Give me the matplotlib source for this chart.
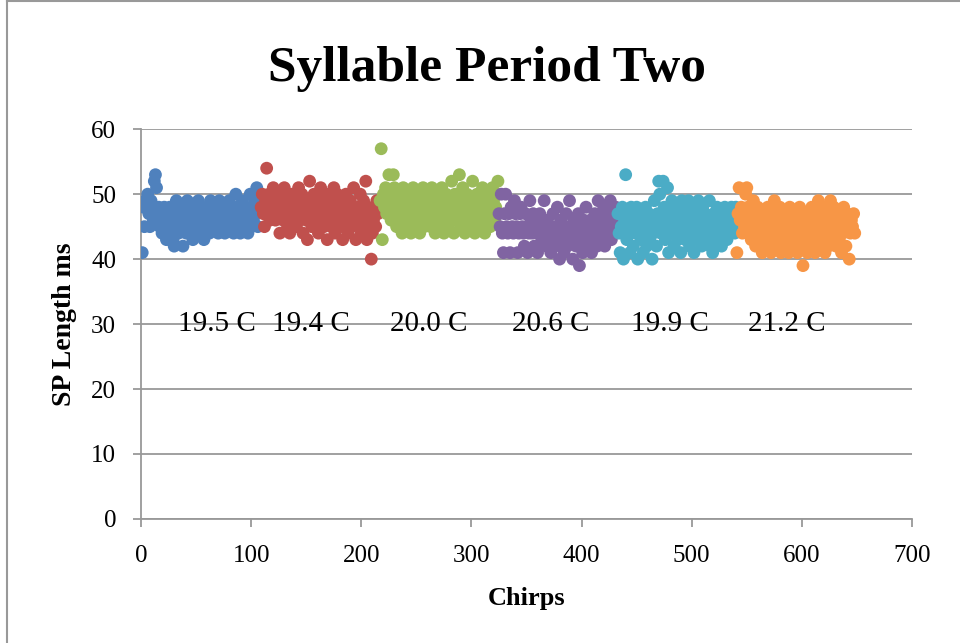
import matplotlib
matplotlib.use("Agg")
import matplotlib.pyplot as plt
import numpy as np
from matplotlib.lines import Line2D

plt.rcParams["font.family"] = ["Liberation Serif", "DejaVu Serif"]

# SP length (ms) per chirp, one list per recording temperature
blue = [41, 48, 45, 49, 48, 50, 47, 45, 49, 48, 46, 52, 53, 51, 47, 48, 45, 46, 44, 47, 48, 45, 43, 46, 44, 48, 47, 45, 43, 42,
        46, 49, 47, 44, 45, 48, 46, 42, 47, 45, 44, 49, 48, 46, 47, 45, 43, 48, 46, 47, 44, 49, 45, 46, 48, 47, 43, 45, 46, 48,
        47, 44, 49, 46, 45, 47, 48, 45, 46, 44, 49, 47, 45, 46, 48, 44, 47, 45, 46, 49, 48, 45, 47, 44, 46, 50, 48, 45, 47, 44,
        46, 49, 47, 45, 48, 46, 44, 47, 50, 45, 48, 46, 49, 47, 51, 45, 48, 50]
red = [48, 50, 47, 45, 49, 54, 48, 50, 46, 47, 49, 51, 48, 46, 50, 47, 49, 44, 48, 50, 46, 51, 47, 49, 45, 48, 44, 47, 50, 46,
       48, 49, 45, 47, 51, 46, 48, 50, 44, 47, 49, 46, 43, 48, 52, 47, 45, 49, 50, 46, 48, 47, 44, 49, 51, 46, 48, 45, 47, 50,
       43, 46, 48, 49, 45, 47, 51, 44, 46, 50, 48, 47, 45, 49, 43, 46, 48, 50, 47, 44, 46, 49, 45, 48, 51, 47, 43, 46, 48, 45,
       50, 44, 47, 49, 46, 52, 43, 48, 45, 47, 40, 44, 46, 48, 45, 49, 47, 48]
green = [49, 57, 43, 50, 48, 51, 47, 49, 53, 50, 46, 48, 53, 51, 47, 45, 49, 50, 48, 46, 44, 51, 49, 47, 45, 50, 48, 46, 44, 49,
         51, 47, 45, 48, 50, 46, 44, 49, 47, 51, 45, 48, 50, 46, 47, 49, 45, 51, 48, 46, 44, 50, 47, 49, 45, 48, 51, 46, 44, 47,
         50, 48, 45, 49, 46, 52, 47, 44, 50, 48, 46, 49, 53, 45, 47, 51, 48, 44, 46, 50, 47, 49, 45, 48, 52, 46, 44, 47, 50, 49,
         45, 48, 46, 51, 47, 44, 49, 50, 46, 48, 45, 47, 51, 49, 46, 48, 50, 52]
purple = [47, 45, 50, 44, 41, 47, 50, 45, 44, 47, 41, 48, 45, 44, 49, 47, 45, 41, 44, 47, 48, 45, 44, 42, 47, 45, 41, 44, 49, 46,
          44, 47, 42, 45, 44, 41, 46, 47, 44, 43, 45, 49, 44, 42, 46, 44, 45, 41, 43, 47, 44, 42, 45, 48, 44, 40, 46, 43, 45, 41,
          44, 47, 42, 45, 49, 44, 43, 40, 46, 45, 42, 44, 47, 39, 45, 43, 41, 46, 44, 48, 45, 42, 44, 46, 41, 45, 43, 47, 44, 42,
          49, 45, 43, 46, 44, 48, 42, 45, 47, 44, 46, 49, 43, 45, 44, 47, 48, 46]
teal = [47, 44, 41, 45, 48, 40, 46, 53, 43, 47, 44, 41, 48, 45, 42, 46, 44, 48, 40, 45, 47, 43, 46, 41, 44, 48, 42, 45, 47, 43,
        46, 40, 44, 49, 45, 42, 47, 52, 50, 44, 46, 52, 48, 43, 45, 51, 41, 47, 44, 49, 46, 42, 45, 48, 43, 47, 44, 41, 49, 46,
        48, 43, 45, 47, 49, 42, 44, 46, 48, 41, 47, 45, 43, 49, 44, 46, 42, 48, 45, 47, 43, 46, 44, 49, 42, 45, 41, 47, 44, 46,
        48, 43, 45, 47, 42, 44, 46, 48, 45, 43, 47, 44, 46, 48, 45, 47, 44, 48]
orange = [41, 47, 51, 46, 48, 44, 47, 45, 50, 51, 48, 44, 46, 43, 47, 49, 45, 42, 44, 48, 46, 43, 45, 41, 47, 44, 42, 46, 48, 43,
          45, 41, 47, 44, 49, 42, 46, 43, 45, 48, 41, 44, 47, 42, 46, 43, 45, 41, 48, 44, 46, 42, 43, 47, 45, 41, 44, 48, 42, 46,
          39, 43, 45, 47, 41, 44, 42, 46, 48, 43, 45, 41, 47, 44, 49, 42, 46, 43, 48, 45, 41, 44, 47, 42, 46, 49, 43, 45, 48, 44,
          42, 47, 45, 43, 46, 41, 44, 48, 45, 42, 47, 46, 40, 44, 46, 45, 47, 44]

series = [blue, red, green, purple, teal, orange]
colors = ["#4F81BD", "#C0504D", "#9BBB59", "#8064A2", "#4BACC6", "#F79646"]

temps = ["19.5 C", "19.4 C", "20.0 C", "20.6 C", "19.9 C", "21.2 C"]
temp_x = [69, 154, 261, 372, 480, 586]

fig = plt.figure(figsize=(9.6, 6.43), dpi=100)
ax = fig.add_axes([0.147, 0.193, 0.803, 0.606])

start = 1
for vals, col in zip(series, colors):
    xs = np.arange(start, start + len(vals))
    ax.scatter(xs, vals, s=85, color=col, edgecolors="none", zorder=3)
    start += len(vals)

for tx, t in zip(temp_x, temps):
    ax.text(tx, 30, t, ha="center", va="center", fontsize=21, zorder=4)

ax.set_xlim(0, 700)
ax.set_ylim(0, 60)
ax.set_xticks(range(0, 701, 100))
ax.set_yticks(range(0, 61, 10))
ax.grid(axis="y", color="#999999", linewidth=1.3)
ax.set_axisbelow(True)
for side in ["top", "right"]:
    ax.spines[side].set_visible(False)
for side in ["left", "bottom"]:
    ax.spines[side].set_color("#999999")
    ax.spines[side].set_linewidth(1.3)
ax.tick_params(axis="both", colors="#999999", length=6, width=1.3, labelsize=18, labelcolor="black")
ax.tick_params(axis="x", pad=13)
ax.tick_params(axis="y", pad=12)

ax.set_xlabel("Chirps", fontsize=19, fontweight="bold", labelpad=14)
ax.set_ylabel("SP Length ms", fontsize=20, fontweight="bold", labelpad=10)
fig.text(0.507, 0.893, "Syllable Period Two", ha="center", va="center", fontsize=37, fontweight="bold")

# chart frame edges
fig.add_artist(Line2D([0.0075, 0.0075], [0, 1], transform=fig.transFigure, color="#999999", linewidth=1.5))
fig.add_artist(Line2D([0.0075, 1], [0.998, 0.998], transform=fig.transFigure, color="#999999", linewidth=1.5))

fig.savefig("out.png", dpi=100)
